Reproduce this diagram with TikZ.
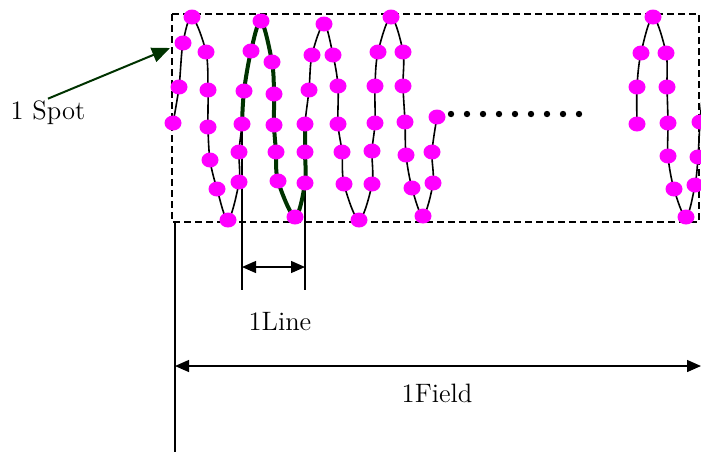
\documentclass[tikz,border=0pt]{standalone}
\usetikzlibrary{arrows.meta}
\definecolor{spotmagenta}{RGB}{255, 0, 255}
\definecolor{darkleaf}{RGB}{0, 51, 0}

\begin{document}
\begin{tikzpicture}[
    x=0.5pt, y=-0.5pt,
    font=\fontsize{13.3}{16}\selectfont,
    scanline/.style={black, line width=0.8pt},
    activeline/.style={darkleaf, line width=2pt},
    spotdot/.style={fill=spotmagenta},
    framebox/.style={dash pattern=on 3.5pt off 2pt, line width=0.8pt},
    guide/.style={line width=0.65pt},
    dimarrow/.style={{Triangle[length=7pt,width=6pt]}-{Triangle[length=7pt,width=6pt]}, line width=0.65pt},
    dimlabel/.style={inner sep=1pt}
]
    \useasboundingbox (0,0) rectangle (701,452);

    % =========================================================================
    % SCAN AREA AND RASTER CURVE
    % =========================================================================
    \draw[framebox] (172,14) rectangle (699,222);

    % guide lines for the dimensions
    \coordinate (fieldtop) at (175,222);
    \coordinate (fieldbot) at (175,452);
    \coordinate (linetopA) at (242,113);
    \coordinate (linebotA) at (242,290);
    \coordinate (linetopB) at (305,127);
    \coordinate (linebotB) at (305,290);
    \draw[guide] (fieldtop) -- (fieldbot);
    \draw[guide] (linetopA) -- (linebotA);
    \draw[guide] (linetopB) -- (linebotB);

    % first part of the scan
    \draw[scanline] plot[smooth, tension=0.55] coordinates {
        (173,123) (179,87) (183,43) (192,17) (206,52) (208,90) (208,127) (210,160)
        (217,189) (228,220) (239,182) (239,152) (242,124) (244,91) (251,51) (261,21)
        (272,62) (274,94) (274,125) (276,152) (278,181) (295,217) (305,183) (305,152)
        (305,124) (309,90) (312,55) (324,24) (333,55) (338,86) (338,124) (342,152)
        (344,184) (359,220) (372,184) (372,151) (375,123) (375,86) (378,52) (391,17)
        (403,52) (403,86) (405,122) (406,155) (412,188) (423,216) (433,183) (432,152)
        (437,117)};

    % one line highlighted
    \draw[activeline] plot[smooth, tension=0.55] coordinates {
        (242,124) (244,91) (251,51) (261,21) (272,62) (274,94) (274,125) (276,152)
        (278,181) (295,217) (305,183) (305,152) (305,124)};

    % last part of the scan
    \draw[scanline] plot[smooth, tension=0.55] coordinates {
        (637,124) (637,87) (641,53) (653,17) (666,53) (667,87) (668,123) (668,156)
        (674,189) (686,217) (695,185) (698,157) (700,122) (703,90)};

    % spots
    \foreach \x/\y in {173/123, 179/87, 183/43, 192/17, 206/52, 208/90, 208/127, 210/160,
        217/189, 228/220, 239/182, 239/152, 242/124, 244/91, 251/51, 261/21,
        272/62, 274/94, 274/125, 276/152, 278/181, 295/217, 305/183, 305/152,
        305/124, 309/90, 312/55, 324/24, 333/55, 338/86, 338/124, 342/152,
        344/184, 359/220, 372/184, 372/151, 375/123, 375/86, 378/52, 391/17,
        403/52, 403/86, 405/122, 406/155, 412/188, 423/216, 433/183, 432/152,
        437/117, 637/124, 637/87, 641/53, 653/17, 666/53, 667/87, 668/123,
        668/156, 674/189, 686/217, 695/185, 698/157, 700/122} {
        \fill[spotdot] (\x,\y) ellipse (4.25pt and 3.75pt);
    }

    % gap in the scan
    \foreach \i in {0,...,8} {
        \fill (451+16*\i,114) circle (1.6pt);
    }

    % =========================================================================
    % LABELS AND DIMENSIONS
    % =========================================================================
    \node[dimlabel] (spot) at (48,113) {1 Spot};
    \coordinate (spottip) at (170,48);
    \draw[-{Triangle[length=9pt,width=7.5pt]}, darkleaf, line width=1pt] (spot.north) -- (spottip);

    \coordinate (lineL) at (242,267);
    \coordinate (lineR) at (305,267);
    \draw[dimarrow] (lineL) -- (lineR);
    \node[dimlabel] (linetext) at (280,322) {1Line};

    \coordinate (fieldL) at (175,366);
    \coordinate (fieldR) at (701,366);
    \draw[dimarrow] (fieldL) -- (fieldR);
    \node[dimlabel] (fieldtext) at (437,393) {1Field};

\end{tikzpicture}
\end{document}
